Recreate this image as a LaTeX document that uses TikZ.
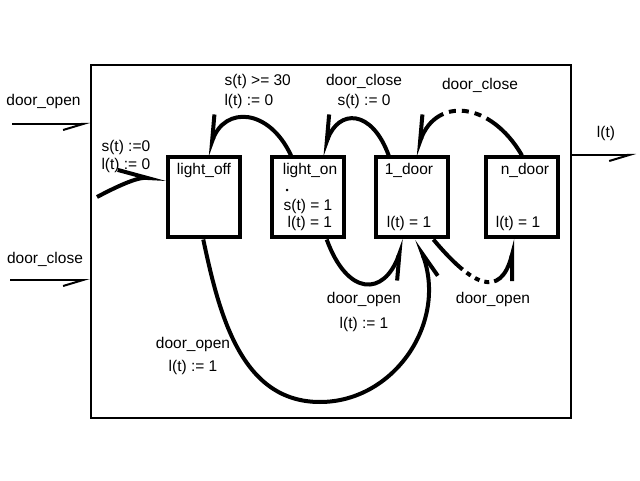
\documentclass[tikz,border=0pt]{standalone}
\usepackage{fontspec}
\setmainfont{Liberation Sans}
\usepackage{tikz}
\usetikzlibrary{positioning,calc,arrows.meta}

\tikzset{
  stbox/.style={draw, rectangle, line width=4pt, minimum width=72pt, minimum height=80pt, inner sep=0pt},
  stname/.style={anchor=north, inner sep=0pt, yshift=-7.5pt},
  stval/.style={anchor=south, inner sep=0pt, yshift=9pt},
  trans/.style={line width=4pt, -{Straight Barb[right, length=26pt, width=14pt]}},
  sig/.style={line width=2pt, -{Straight Barb[right, length=20pt, width=12pt]}},
  dpatA/.style={dash pattern=on 52pt off 6pt on 7pt off 6pt on 7pt off 6pt on 7pt off 6pt on 300pt},
  dpatB/.style={dash pattern=on 42pt off 5pt on 5pt off 5pt on 5pt off 5pt on 5pt off 5pt on 300pt}
}

\begin{document}
\begin{tikzpicture}[x=1pt, y=1pt, node distance=104pt, font=\fontsize{15.5}{17}\selectfont]
  \useasboundingbox (0,0) rectangle (640,480);

  \node[draw, line width=2.2pt, minimum width=480pt, minimum height=353pt] (frame) at (331,238.5) {};

  % states
  \node[stbox, label={[stname]north:{light\_off}}] (off) at (204,282.5) {};
  \node[stbox, label={[stname, xshift=2pt]north:{light\_on}},
        label={[stval, align=left]south:{\hspace*{2pt}{\small\textbullet}\\s(t) = 1\\\hspace*{4pt}l(t) = 1}}] (on) [right of=off] {};
  \node[stbox, label={[stname, xshift=-3pt]north:{1\_door}}, label={[stval, xshift=-3pt]south:{l(t) = 1}}] (door1) [right of=on] {};
  \node[stbox, label={[stname, xshift=3pt]north:{n\_door}}, label={[stval, xshift=-4pt]south:{l(t) = 1}}] (ndoor) [right of=door1, xshift=6pt] {};

  % inputs and output
  \coordinate (dopen) at (12,356);
  \coordinate (dclose) at (10,200);
  \coordinate (lout) at (636,325);
  \draw[sig] (dopen) -- (dopen -| frame.west);
  \draw[sig] (dclose) -- (dclose -| frame.west);
  \draw[sig] (lout -| frame.east) -- (lout);
  \node (topen) at (43.5,378.5) {door\_open};
  \node (tclose) at (45,221) {door\_close};
  \node (tout) at (606,346.5) {l(t)};

  % transitions
  \coordinate (init) at (97,283);
  \draw[trans, -{Straight Barb[left, length=30pt, width=13pt]}] (init) to[out=28, in=177] (off.154);
  \draw[trans] (on.112) to[out=115, in=70, looseness=1.6] (off.86);
  \draw[trans] (door1.119) to[out=110, in=70, looseness=1.9] (on.72);
  \draw[trans, dpatA] (ndoor.90) to[out=120, in=70, looseness=1.5] (door1.86);
  \draw[trans] (on.-66) to[out=-70, in=-110, looseness=2] (door1.-100);
  \draw[trans, dpatB] (door1.-63) to[out=-50, in=-105, looseness=1.9] (ndoor.-98);
  \coordinate (low) at (320,78);
  \draw[trans] (off.-91) to[out=-78, in=180] (low) to[out=0, in=-70, in looseness=1.2] (door1.-83);

  % transition labels
  \node[anchor=west, align=left] (tinit) at (98,324) {s(t) :=0\\[1pt]l(t) := 0};
  \node[anchor=west, align=left] (ttimeout) at (221,389) {s(t) >= 30\\[3pt]l(t) := 0};
  \node[align=center] (tclose1) at (364,389) {door\_close\\[3pt]s(t) := 0};
  \node (tclosen) at (480,395) {door\_close};
  \node[align=center] (topen1) at (364,168.5) {door\_open\\[8pt]l(t) := 1};
  \node (topenn) at (493,181) {door\_open};
  \node[align=center] (topen0) at (193,124.5) {door\_open\\[6pt]l(t) := 1};
\end{tikzpicture}
\end{document}
